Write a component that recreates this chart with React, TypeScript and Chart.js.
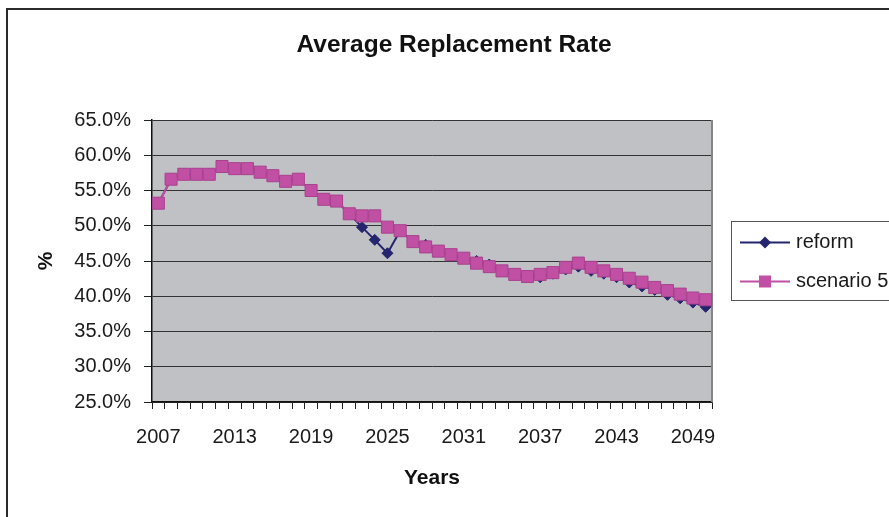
import React, { useEffect, useRef } from 'react';
import { Chart, registerables } from 'chart.js';

Chart.register(...registerables);

// ---- data ----
const years: string[] = [
  '2007', '2008', '2009', '2010', '2011', '2012', '2013', '2014', '2015', '2016', '2017',
  '2018', '2019', '2020', '2021', '2022', '2023', '2024', '2025', '2026', '2027', '2028',
  '2029', '2030', '2031', '2032', '2033', '2034', '2035', '2036', '2037', '2038', '2039',
  '2040', '2041', '2042', '2043', '2044', '2045', '2046', '2047', '2048', '2049', '2050',
];

const reform: number[] = [
  53.2, 56.6, 57.3, 57.3, 57.3, 58.4, 58.1, 58.1, 57.6, 57.1, 56.3,
  56.6, 55.0, 53.75, 53.5, 51.7, 49.8, 48.0, 46.1, 49.3, 47.8, 47.3,
  46.4, 45.9, 45.4, 45.0, 44.5, 43.6, 43.1, 42.8, 42.7, 43.2, 43.8,
  44.2, 43.6, 43.2, 42.7, 41.95, 41.4, 40.9, 40.2, 39.7, 39.1, 38.5,
];

const scenario5: number[] = [
  53.2, 56.6, 57.3, 57.3, 57.3, 58.4, 58.1, 58.1, 57.6, 57.1, 56.3,
  56.6, 55.0, 53.75, 53.5, 51.7, 51.4, 51.4, 49.8, 49.3, 47.75, 47.0,
  46.4, 45.9, 45.4, 44.7, 44.2, 43.6, 43.1, 42.8, 43.1, 43.35, 44.1,
  44.7, 44.1, 43.6, 43.1, 42.55, 42.0, 41.25, 40.8, 40.3, 39.75, 39.5,
];

const seriesNames: string[] = ['reform', 'scenario 5'];
const chartTitle = 'Average Replacement Rate';
const xTitle = 'Years';
const yTitle = '%';
const yMin = 25;
const yMax = 65;
const yStep = 5;
const labelEvery = 6;

// ---- style ----
const FONT = '"Liberation Sans", Arial, Helvetica, sans-serif';
const NAVY = '#25256F';
const MAGENTA = '#C150A4';
const MAGENTA_EDGE = '#A8408E';
const PLOT_BG = '#C0C1C5';

const framePlugin = {
  id: 'frameAndBg',
  beforeDraw(chart: any) {
    const { ctx, chartArea: a, width, height } = chart;
    ctx.save();
    ctx.fillStyle = '#ffffff';
    ctx.fillRect(0, 0, width, height);
    ctx.strokeStyle = '#2a2a2a';
    ctx.lineWidth = 2;
    ctx.beginPath();
    ctx.moveTo(7, height + 2);
    ctx.lineTo(7, 9);
    ctx.lineTo(width + 2, 9);
    ctx.stroke();
    ctx.fillStyle = PLOT_BG;
    ctx.fillRect(a.left, a.top, a.right - a.left, a.bottom - a.top);
    ctx.restore();
  },
  beforeDatasetsDraw(chart: any) {
    const { ctx, chartArea: a } = chart;
    ctx.save();
    ctx.strokeStyle = '#858585';
    ctx.lineWidth = 2;
    ctx.beginPath();
    ctx.moveTo(a.right, a.top);
    ctx.lineTo(a.right, a.bottom);
    ctx.stroke();
    ctx.restore();
  },
};

const legendPlugin = {
  id: 'excelLegend',
  afterDraw(chart: any) {
    const { ctx } = chart;
    const boxX = 731.5;
    const boxY = 221.5;
    const boxH = 79;
    ctx.save();
    ctx.strokeStyle = '#555';
    ctx.lineWidth = 1;
    ctx.strokeRect(boxX, boxY, 200, boxH);
    const rows = [242.5, 281.5];
    chart.data.datasets.forEach((ds: any, i: number) => {
      const y = rows[i];
      ctx.strokeStyle = ds.borderColor;
      ctx.lineWidth = 2;
      ctx.beginPath();
      ctx.moveTo(740, y);
      ctx.lineTo(790, y);
      ctx.stroke();
      ctx.fillStyle = ds.pointBackgroundColor;
      ctx.beginPath();
      if (ds.pointStyle === 'rectRot') {
        ctx.moveTo(765, y - 6);
        ctx.lineTo(771, y);
        ctx.lineTo(765, y + 6);
        ctx.lineTo(759, y);
        ctx.closePath();
      } else {
        ctx.rect(759, y - 6, 12, 12);
      }
      ctx.fill();
      ctx.fillStyle = '#1a1a1a';
      ctx.font = `20px ${FONT}`;
      ctx.textBaseline = 'middle';
      ctx.textAlign = 'left';
      ctx.fillText(ds.label, 796, y);
    });
    ctx.restore();
  },
};

export default function App() {
  const canvasRef = useRef<HTMLCanvasElement | null>(null);

  useEffect(() => {
    const canvas = canvasRef.current;
    if (!canvas) return;
    const chart = new Chart(canvas, {
      type: 'line',
      data: {
        labels: years,
        datasets: [
          {
            label: seriesNames[0],
            data: reform,
            borderColor: NAVY,
            backgroundColor: NAVY,
            pointBackgroundColor: NAVY,
            pointBorderColor: NAVY,
            pointStyle: 'rectRot',
            pointRadius: 5.5,
            pointBorderWidth: 1,
            borderWidth: 2,
            tension: 0,
            order: 2,
          },
          {
            label: seriesNames[1],
            data: scenario5,
            borderColor: MAGENTA,
            backgroundColor: MAGENTA,
            pointBackgroundColor: MAGENTA,
            pointBorderColor: MAGENTA_EDGE,
            pointStyle: 'rect',
            pointRadius: 8.5,
            pointBorderWidth: 1,
            borderWidth: 2,
            tension: 0,
            order: 1,
          },
        ],
      },
      options: {
        responsive: false,
        animation: false,
        devicePixelRatio: 1,
        layout: { padding: { left: 19, right: 0, top: 0, bottom: 0 } },
        font: { family: FONT },
        plugins: {
          legend: { display: false },
          tooltip: { enabled: false },
          title: {
            display: true,
            text: chartTitle,
            color: '#111',
            font: { family: FONT, size: 24.5, weight: 'bold', lineHeight: 1.2 },
            padding: { top: 30.3, bottom: 60.3 },
          },
        },
        scales: {
          x: {
            type: 'category',
            offset: true,
            grid: {
              offset: true,
              drawOnChartArea: false,
              drawTicks: true,
              tickLength: 7,
              tickColor: '#222',
              tickWidth: 1,
            },
            border: { display: true, color: '#111', width: 1.5 },
            ticks: {
              autoSkip: false,
              maxRotation: 0,
              minRotation: 0,
              padding: 16,
              color: '#1a1a1a',
              font: { family: FONT, size: 20 },
              callback: (_v: any, i: number) => (i % labelEvery === 0 ? years[i] : ''),
            },
            title: {
              display: true,
              text: xTitle,
              color: '#111',
              font: { family: FONT, size: 21, weight: 'bold', lineHeight: 1.2 },
              padding: { top: 0, bottom: 26.4 },
            },
            afterFit: (s: any) => {
              s.height = 115;
            },
          },
          y: {
            type: 'linear',
            min: yMin,
            max: yMax,
            grid: {
              color: '#333',
              lineWidth: 1,
              drawTicks: true,
              tickLength: 8,
              tickColor: '#222',
            },
            border: { display: true, color: '#111', width: 1.5 },
            ticks: {
              stepSize: yStep,
              padding: 13,
              color: '#1a1a1a',
              font: { family: FONT, size: 20 },
              callback: (v: any) => Number(v).toFixed(1) + '%',
            },
            title: {
              display: true,
              text: yTitle,
              color: '#111',
              font: { family: FONT, size: 21, weight: 'bold', lineHeight: 1.2 },
              padding: { top: 14.4, bottom: 0 },
            },
            afterFit: (s: any) => {
              s.width = 133;
            },
          },
          spacer: {
            type: 'linear',
            position: 'right',
            display: true,
            grid: { display: false, drawTicks: false },
            border: { display: false },
            ticks: { display: false },
            afterFit: (s: any) => {
              s.width = 177;
            },
          },
        },
      },
      plugins: [framePlugin, legendPlugin],
    } as any);
    return () => chart.destroy();
  }, []);

  return (
    <div style={{ position: 'fixed', left: 0, top: 0, width: 889, height: 517, background: '#fff' }}>
      <canvas ref={canvasRef} width={889} height={517} style={{ display: 'block' }} />
    </div>
  );
}
